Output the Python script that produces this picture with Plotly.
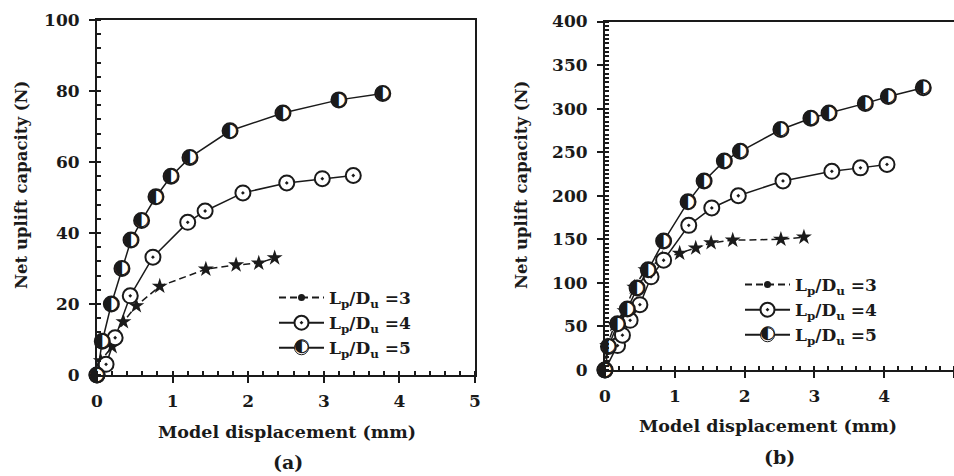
import plotly.graph_objects as go

# ---------------- data ----------------
# Panel (a)
a_x3 = [0, 0.05, 0.2, 0.35, 0.52, 0.83, 1.44, 1.84, 2.14, 2.35]
a_y3 = [0, 4, 8, 15, 19.5, 25, 29.8, 31, 31.5, 33]
a_x4 = [0, 0.12, 0.24, 0.44, 0.74, 1.2, 1.43, 1.93, 2.51, 2.98, 3.39]
a_y4 = [0, 3, 10.5, 22.3, 33.2, 43, 46.2, 51.3, 54.1, 55.3, 56.2]
a_x5 = [0, 0.07, 0.19, 0.33, 0.45, 0.59, 0.78, 0.98, 1.23, 1.76, 2.46, 3.2, 3.78]
a_y5 = [0, 9.5, 20, 30, 38, 43.5, 50.2, 56, 61.3, 68.8, 73.8, 77.5, 79.3]

# Panel (b)
b_x3 = [0, 0.03, 0.14, 0.28, 0.42, 0.58, 0.82, 1.07, 1.3, 1.52, 1.83, 2.52, 2.85]
b_y3 = [0, 28, 52, 68, 95, 115, 128, 134, 140, 146, 149, 150, 152.5]
b_x4 = [0, 0.18, 0.25, 0.36, 0.5, 0.66, 0.84, 1.2, 1.53, 1.91, 2.55, 3.25, 3.66, 4.04]
b_y4 = [0, 28, 40, 57, 75, 107, 126, 166, 186, 200, 217, 228, 232, 236]
b_x5 = [0, 0.05, 0.18, 0.32, 0.46, 0.62, 0.84, 1.19, 1.42, 1.71, 1.94, 2.52, 2.95, 3.21, 3.73, 4.06, 4.56]
b_y5 = [0, 27, 53, 70, 94, 115, 148, 193, 217, 240, 251, 276, 289, 295, 306, 314, 324]

names = ["L<sub>p</sub>/D<sub>u</sub> =3", "L<sub>p</sub>/D<sub>u</sub> =4", "L<sub>p</sub>/D<sub>u</sub> =5"]
x_title = "Model displacement (mm)"
y_title = "Net uplift capacity (N)"
panel_labels = ["(a)", "(b)"]

SERIF = "DejaVu Serif"
INK = "#1a1a1a"
HALF = "\u25D0"

fig = go.Figure()


def add_panel(xa, ya, leg, x3, y3, x4, y4, x5, y5):
    # L/D = 3 : dashed line with star markers
    fig.add_trace(go.Scatter(x=x3, y=y3, mode="lines+markers", xaxis=xa, yaxis=ya,
                             line=dict(color=INK, width=1.5, dash="7px,4px"),
                             marker=dict(symbol="star", size=12, color=INK),
                             showlegend=False, cliponaxis=False))
    # L/D = 4 : circle with dot
    fig.add_trace(go.Scatter(x=x4, y=y4, mode="lines+markers", xaxis=xa, yaxis=ya,
                             line=dict(color=INK, width=1.5),
                             marker=dict(symbol="circle-dot", size=15, color="white",
                                         line=dict(color=INK, width=2)),
                             showlegend=False, cliponaxis=False))
    # L/D = 5 : half filled circle
    fig.add_trace(go.Scatter(x=x5, y=y5, mode="lines+markers", xaxis=xa, yaxis=ya,
                             line=dict(color=INK, width=1.5),
                             marker=dict(symbol="circle", size=15, color="white",
                                         line=dict(color=INK, width=2)),
                             showlegend=False, cliponaxis=False))
    fig.add_trace(go.Scatter(x=x5, y=y5, mode="text", xaxis=xa, yaxis=ya,
                             text=[HALF] * len(x5), textposition="middle center",
                             textfont=dict(family="DejaVu Sans", size=19, color=INK),
                             showlegend=False, cliponaxis=False, hoverinfo="skip"))
    # legend entries
    fig.add_trace(go.Scatter(x=[None], y=[None], mode="lines+markers", xaxis=xa, yaxis=ya,
                             name=names[0], legend=leg,
                             line=dict(color=INK, width=2, dash="7px,4px"),
                             marker=dict(symbol="circle", size=7, color=INK)))
    fig.add_trace(go.Scatter(x=[None], y=[None], mode="lines+markers", xaxis=xa, yaxis=ya,
                             name=names[1], legend=leg,
                             line=dict(color=INK, width=2),
                             marker=dict(symbol="circle-dot", size=14, color="white",
                                         line=dict(color=INK, width=2))))
    fig.add_trace(go.Scatter(x=[None], y=[None], mode="lines+markers", xaxis=xa, yaxis=ya,
                             name=names[2], legend=leg,
                             line=dict(color=INK, width=2),
                             marker=dict(symbol="circle", size=14, color="white",
                                         line=dict(color=INK, width=1))))


add_panel("x", "y", "legend", a_x3, a_y3, a_x4, a_y4, a_x5, a_y5)
add_panel("x2", "y2", "legend2", b_x3, b_y3, b_x4, b_y4, b_x5, b_y5)

W, H = 954, 476
tickfont = dict(family=SERIF, size=17, color=INK, weight="bold")


def xax(domain, anchor):
    return dict(domain=domain, anchor=anchor, range=[0, 5], dtick=1, tick0=0,
                automargin=False,
                showgrid=False, zeroline=False, showline=True, linewidth=2, linecolor=INK,
                mirror=True, ticks="outside", ticklen=6, tickwidth=2, tickcolor=INK,
                minor=dict(ticks="inside", ticklen=4, tickwidth=1.5, tickcolor=INK, dtick=0.2),
                tickfont=tickfont, ticklabelstandoff=4)


def yax(domain, anchor, rng, dt, mdt):
    return dict(domain=domain, anchor=anchor, range=rng, dtick=dt, tick0=0,
                automargin=False,
                showgrid=False, zeroline=False, showline=True, linewidth=2, linecolor=INK,
                mirror=True, ticks="outside", ticklen=6, tickwidth=2, tickcolor=INK,
                minor=dict(ticks="inside", ticklen=4, tickwidth=1.5, tickcolor=INK, dtick=mdt),
                tickfont=tickfont, ticklabelstandoff=6)


LEG_A = (274, 280)   # legend top-left (px)
LEG_B = (740, 267)
legfont = dict(family=SERIF, size=17, color=INK, weight="bold")

fig.update_layout(
    template="none",
    width=W, height=H, margin=dict(l=0, r=0, t=0, b=0, autoexpand=False),
    paper_bgcolor="white", plot_bgcolor="white",
    xaxis=xax([97 / W, 475 / W], "y"),
    yaxis=yax([1 - 375 / H, 1 - 20 / H], "x", [0, 100], 20, 4),
    xaxis2=xax([605 / W, 1.0], "y2"),
    yaxis2=yax([1 - 370 / H, 1 - 21.5 / H], "x2", [0, 400], 50, 5),
    legend=dict(x=LEG_A[0] / W, y=1 - LEG_A[1] / H, xanchor="left", yanchor="top",
                bgcolor="rgba(0,0,0,0)", itemwidth=45, tracegroupgap=0, borderwidth=0,
                font=legfont),
    legend2=dict(x=LEG_B[0] / W, y=1 - LEG_B[1] / H, xanchor="left", yanchor="top",
                 bgcolor="rgba(0,0,0,0)", itemwidth=45, tracegroupgap=0, borderwidth=0,
                 font=legfont),
    showlegend=True,
)

# half-filled glyph on the legend symbol of the third entry
for lx, ly in (LEG_A, LEG_B):
    fig.add_annotation(text=HALF, x=(lx + 28) / W, y=1 - (ly + 64) / H, xref="paper", yref="paper",
                       showarrow=False, font=dict(family="DejaVu Sans", size=18, color=INK),
                       xanchor="center", yanchor="middle")

ann_font = dict(family=SERIF, size=17.5, color=INK, weight="bold")
fig.add_annotation(text=x_title, x=287 / W, y=1 - 432 / H, xref="paper", yref="paper",
                   showarrow=False, font=ann_font, xanchor="center", yanchor="middle")
fig.add_annotation(text=x_title, x=768 / W, y=1 - 426 / H, xref="paper", yref="paper",
                   showarrow=False, font=ann_font, xanchor="center", yanchor="middle")
fig.add_annotation(text=y_title, x=22 / W, y=1 - 185 / H, xref="paper", yref="paper",
                   showarrow=False, font=dict(family=SERIF, size=16.5, color=INK, weight="bold"),
                   textangle=-90, xanchor="center", yanchor="middle")
fig.add_annotation(text=y_title, x=522 / W, y=1 - 185 / H, xref="paper", yref="paper",
                   showarrow=False, font=dict(family=SERIF, size=16.5, color=INK, weight="bold"),
                   textangle=-90, xanchor="center", yanchor="middle")
fig.add_annotation(text=panel_labels[0], x=288 / W, y=1 - 462 / H, xref="paper", yref="paper",
                   showarrow=False, font=dict(family=SERIF, size=19, color=INK, weight="bold"),
                   xanchor="center", yanchor="middle")
fig.add_annotation(text=panel_labels[1], x=779 / W, y=1 - 457 / H, xref="paper", yref="paper",
                   showarrow=False, font=dict(family=SERIF, size=19, color=INK, weight="bold"),
                   xanchor="center", yanchor="middle")

fig.write_html("out.html", config={"displayModeBar": False},
               post_script="document.body.style.margin='0';document.body.style.overflow='hidden';")
